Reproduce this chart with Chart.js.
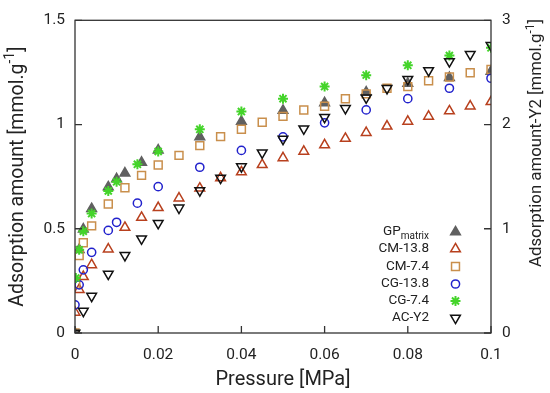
<!DOCTYPE html>
<html>
<head>
<meta charset="UTF-8">
<script src="https://cdn.jsdelivr.net/npm/chart.js"></script>
<style>
  html, body { margin: 0; padding: 0; background: #fff; }
  #wrap { width: 550px; height: 393px; }
</style>
</head>
<body>
<div id="wrap"><canvas id="grafico" width="550" height="393"></canvas></div>
<script>
// datos (presion en MPa, adsorcion en mmol/g)
const xGP = [0, 0.001, 0.002, 0.004, 0.008, 0.01, 0.012, 0.016, 0.02, 0.03, 0.04, 0.05, 0.06, 0.07, 0.08, 0.09, 0.1];
const yGP = [0, 0.40, 0.498, 0.596, 0.70, 0.739, 0.767, 0.818, 0.877, 0.941, 1.015, 1.067, 1.104, 1.155, 1.197, 1.225, 1.255];

const xCM138 = [0, 0.001, 0.002, 0.004, 0.008, 0.012, 0.016, 0.02, 0.025, 0.03, 0.035, 0.04, 0.045, 0.05, 0.055, 0.06, 0.065, 0.07, 0.075, 0.08, 0.085, 0.09, 0.095, 0.1];
const yCM138 = [0.099, 0.208, 0.27, 0.327, 0.402, 0.506, 0.554, 0.601, 0.647, 0.694, 0.744, 0.772, 0.807, 0.84, 0.871, 0.902, 0.933, 0.961, 0.992, 1.015, 1.039, 1.065, 1.088, 1.109];

const xCM74 = [0, 0.0002, 0.001, 0.002, 0.004, 0.008, 0.012, 0.016, 0.02, 0.025, 0.03, 0.035, 0.04, 0.045, 0.05, 0.055, 0.06, 0.065, 0.07, 0.075, 0.08, 0.085, 0.09, 0.095, 0.1];
const yCM74 = [0, 0.234, 0.371, 0.433, 0.514, 0.619, 0.697, 0.756, 0.806, 0.852, 0.899, 0.942, 0.977, 1.011, 1.039, 1.07, 1.088, 1.124, 1.147, 1.174, 1.182, 1.21, 1.228, 1.248, 1.264];

const xCG138 = [0, 0.001, 0.002, 0.004, 0.008, 0.01, 0.015, 0.02, 0.03, 0.04, 0.05, 0.06, 0.07, 0.08, 0.09, 0.1];
const yCG138 = [0.135, 0.231, 0.303, 0.387, 0.492, 0.531, 0.623, 0.702, 0.795, 0.876, 0.941, 1.008, 1.07, 1.124, 1.174, 1.222];

const xCG74 = [0.0002, 0.001, 0.002, 0.004, 0.008, 0.01, 0.015, 0.02, 0.03, 0.04, 0.05, 0.06, 0.07, 0.08, 0.09, 0.1];
const yCG74 = [0.264, 0.399, 0.488, 0.573, 0.681, 0.725, 0.809, 0.871, 0.977, 1.062, 1.124, 1.182, 1.237, 1.284, 1.331, 1.368];

// AC-Y2 va en el eje derecho
const xAC = [0, 0.002, 0.004, 0.008, 0.012, 0.016, 0.02, 0.025, 0.03, 0.035, 0.04, 0.045, 0.05, 0.055, 0.06, 0.065, 0.07, 0.075, 0.08, 0.085, 0.09, 0.095, 0.1];
const yAC = [0, 0.21, 0.354, 0.566, 0.745, 0.904, 1.053, 1.2, 1.366, 1.487, 1.596, 1.73, 1.86, 1.96, 2.07, 2.155, 2.257, 2.347, 2.434, 2.518, 2.605, 2.673, 2.76];

const xTicks = [0, 0.02, 0.04, 0.06, 0.08, 0.1];
const yTicks = [0, 0.5, 1, 1.5];
const y2Ticks = [0, 1, 2, 3];

const FUENTE = "Roboto, 'Noto Sans', sans-serif";
const TEXTO = "#222";

function puntos(xs, ys) {
    return xs.map((x, i) => ({ x: x, y: ys[i] }));
}

const series = [
    { nombre: ["GP", "matrix"], x: xGP, y: yGP, color: "#606060", relleno: "#606060", estilo: "triangle", rot: 0, r: 5.6, eje: "y", orden: 5 },
    { nombre: ["CM-13.8"], x: xCM138, y: yCM138, color: "#b8401e", relleno: "rgba(0,0,0,0)", estilo: "triangle", rot: 0, r: 5.6, eje: "y", orden: 4 },
    { nombre: ["CM-7.4"], x: xCM74, y: yCM74, color: "#c98f4c", relleno: "rgba(0,0,0,0)", estilo: "rect", rot: 0, r: 5.6, eje: "y", orden: 3 },
    { nombre: ["CG-13.8"], x: xCG138, y: yCG138, color: "#2222cc", relleno: "rgba(0,0,0,0)", estilo: "circle", rot: 0, r: 4.1, eje: "y", orden: 2 },
    { nombre: ["CG-7.4"], x: xCG74, y: yCG74, color: "#44d42a", relleno: "#44d42a", estilo: "star", rot: 0, r: 5, eje: "y", orden: 1 },
    { nombre: ["AC-Y2"], x: xAC, y: yAC, color: "#111111", relleno: "rgba(0,0,0,0)", estilo: "triangle", rot: 180, r: 5.6, eje: "y2", orden: 0 }
];

const datasets = series.map(s => ({
    label: s.nombre.join(""),
    data: puntos(s.x, s.y),
    yAxisID: s.eje,
    showLine: false,
    order: s.orden,
    pointStyle: s.estilo,
    rotation: s.rot,
    pointRadius: s.r,
    pointHoverRadius: s.r,
    pointBorderWidth: s.estilo === "star" ? 2 : 1.5,
    pointBorderColor: s.color,
    pointBackgroundColor: s.relleno
}));

// marcadores para la leyenda
function dibujarMarcador(ctx, s, cx, cy) {
    ctx.save();
    ctx.strokeStyle = s.color;
    ctx.fillStyle = s.relleno;
    ctx.lineWidth = s.estilo === "star" ? 2 : 1.5;
    const r = s.r;
    ctx.beginPath();
    if (s.estilo === "triangle") {
        const sgn = s.rot === 180 ? -1 : 1;
        ctx.moveTo(cx, cy - sgn * r);
        ctx.lineTo(cx + r * Math.sqrt(3) / 2, cy + sgn * r / 2);
        ctx.lineTo(cx - r * Math.sqrt(3) / 2, cy + sgn * r / 2);
        ctx.closePath();
        ctx.fill();
        ctx.stroke();
    } else if (s.estilo === "rect") {
        const h = r / Math.SQRT2;
        ctx.rect(cx - h, cy - h, 2 * h, 2 * h);
        ctx.stroke();
    } else if (s.estilo === "circle") {
        ctx.arc(cx, cy, r, 0, Math.PI * 2);
        ctx.stroke();
    } else {
        for (let k = 0; k < 4; k++) {
            const a = k * Math.PI / 4;
            ctx.moveTo(cx - r * Math.cos(a), cy - r * Math.sin(a));
            ctx.lineTo(cx + r * Math.cos(a), cy + r * Math.sin(a));
        }
        ctx.stroke();
    }
    ctx.restore();
}

// texto con superindice/subindice: partes = [[texto, "n"|"sup"|"sub"], ...]
function anchoPartes(ctx, partes, size) {
    let w = 0;
    partes.forEach(p => {
        ctx.font = (p[1] === "n" ? size : Math.round(size * 0.72)) + "px " + FUENTE;
        w += ctx.measureText(p[0]).width;
    });
    return w;
}
function textoRico(ctx, partes, x, y, size, alinear) {
    const w = anchoPartes(ctx, partes, size);
    let px = alinear === "center" ? x - w / 2 : (alinear === "right" ? x - w : x);
    ctx.textAlign = "left";
    ctx.textBaseline = "middle";
    partes.forEach(p => {
        let dy = 0;
        if (p[1] === "sup") dy = -size * 0.38;
        if (p[1] === "sub") dy = size * 0.3;
        ctx.font = (p[1] === "n" ? size : Math.round(size * 0.72)) + "px " + FUENTE;
        ctx.fillText(p[0], px, y + dy);
        px += ctx.measureText(p[0]).width;
    });
}

const marcoPlugin = {
    id: "marco",
    afterDraw(chart) {
        const ctx = chart.ctx;
        const a = chart.chartArea;
        const sx = chart.scales.x, sy = chart.scales.y, sy2 = chart.scales.y2;
        ctx.save();
        ctx.strokeStyle = "#333";
        ctx.lineWidth = 1.3;
        ctx.strokeRect(a.left, a.top, a.right - a.left, a.bottom - a.top);
        ctx.beginPath();
        xTicks.forEach(v => {
            const p = sx.getPixelForValue(v);
            ctx.moveTo(p, a.bottom);
            ctx.lineTo(p, a.bottom - 7);
        });
        yTicks.forEach(v => {
            const p = sy.getPixelForValue(v);
            ctx.moveTo(a.left, p);
            ctx.lineTo(a.left + 7, p);
        });
        y2Ticks.forEach(v => {
            const p = sy2.getPixelForValue(v);
            ctx.moveTo(a.right, p);
            ctx.lineTo(a.right - 7, p);
        });
        ctx.stroke();

        // titulos de ejes
        ctx.fillStyle = TEXTO;
        textoRico(ctx, [["Pressure [MPa]", "n"]], (a.left + a.right) / 2, 380, 20, "center");

        ctx.save();
        ctx.translate(18, (a.top + a.bottom) / 2);
        ctx.rotate(-Math.PI / 2);
        textoRico(ctx, [["Adsorption amount [mmol.g", "n"], ["-1", "sup"], ["]", "n"]], 0, 0, 19.5, "center");
        ctx.restore();

        ctx.save();
        ctx.translate(537, 143);
        ctx.rotate(-Math.PI / 2);
        textoRico(ctx, [["Adsorption amount-Y2 [mmol.g", "n"], ["-1", "sup"], ["]", "n"]], 0, 0, 16.8, "center");
        ctx.restore();

        // leyenda
        const filas = [232, 249, 266.5, 284, 301, 318];
        series.forEach((s, i) => {
            const partes = s.nombre.length > 1 ? [[s.nombre[0], "n"], [s.nombre[1], "sub"]] : [[s.nombre[0], "n"]];
            ctx.fillStyle = TEXTO;
            textoRico(ctx, partes, 429, filas[i], 13.5, "right");
            dibujarMarcador(ctx, s, 455.5, filas[i]);
        });
        ctx.restore();
    }
};

const ctx = document.getElementById("grafico").getContext("2d");
new Chart(ctx, {
    type: "scatter",
    data: { datasets: datasets },
    options: {
        responsive: false,
        animation: false,
        events: [],
        layout: { padding: { top: 11, left: 0, right: 0, bottom: 0 } },
        plugins: { legend: { display: false }, tooltip: { enabled: false } },
        scales: {
            x: {
                type: "linear",
                min: 0, max: 0.1,
                afterFit: s => { s.height = 60; },
                afterBuildTicks: s => { s.ticks = xTicks.map(v => ({ value: v })); },
                grid: { display: false, drawTicks: false },
                border: { display: false },
                ticks: {
                    padding: 13,
                    color: TEXTO,
                    font: { family: FUENTE, size: 15.5 },
                    callback: v => String(Number(v.toFixed(2)))
                }
            },
            y: {
                type: "linear",
                position: "left",
                min: 0, max: 1.5,
                afterFit: s => { s.width = 75; },
                afterBuildTicks: s => { s.ticks = yTicks.map(v => ({ value: v })); },
                grid: { display: false, drawTicks: false },
                border: { display: false },
                ticks: {
                    padding: 10,
                    color: TEXTO,
                    font: { family: FUENTE, size: 15.5 },
                    callback: v => String(v)
                }
            },
            y2: {
                type: "linear",
                position: "right",
                min: 0, max: 3,
                afterFit: s => { s.width = 59; },
                afterBuildTicks: s => { s.ticks = y2Ticks.map(v => ({ value: v })); },
                grid: { display: false, drawTicks: false },
                border: { display: false },
                ticks: {
                    padding: 11,
                    color: TEXTO,
                    font: { family: FUENTE, size: 15.5 },
                    callback: v => String(v)
                }
            }
        }
    },
    plugins: [marcoPlugin]
});
</script>
</body>
</html>
